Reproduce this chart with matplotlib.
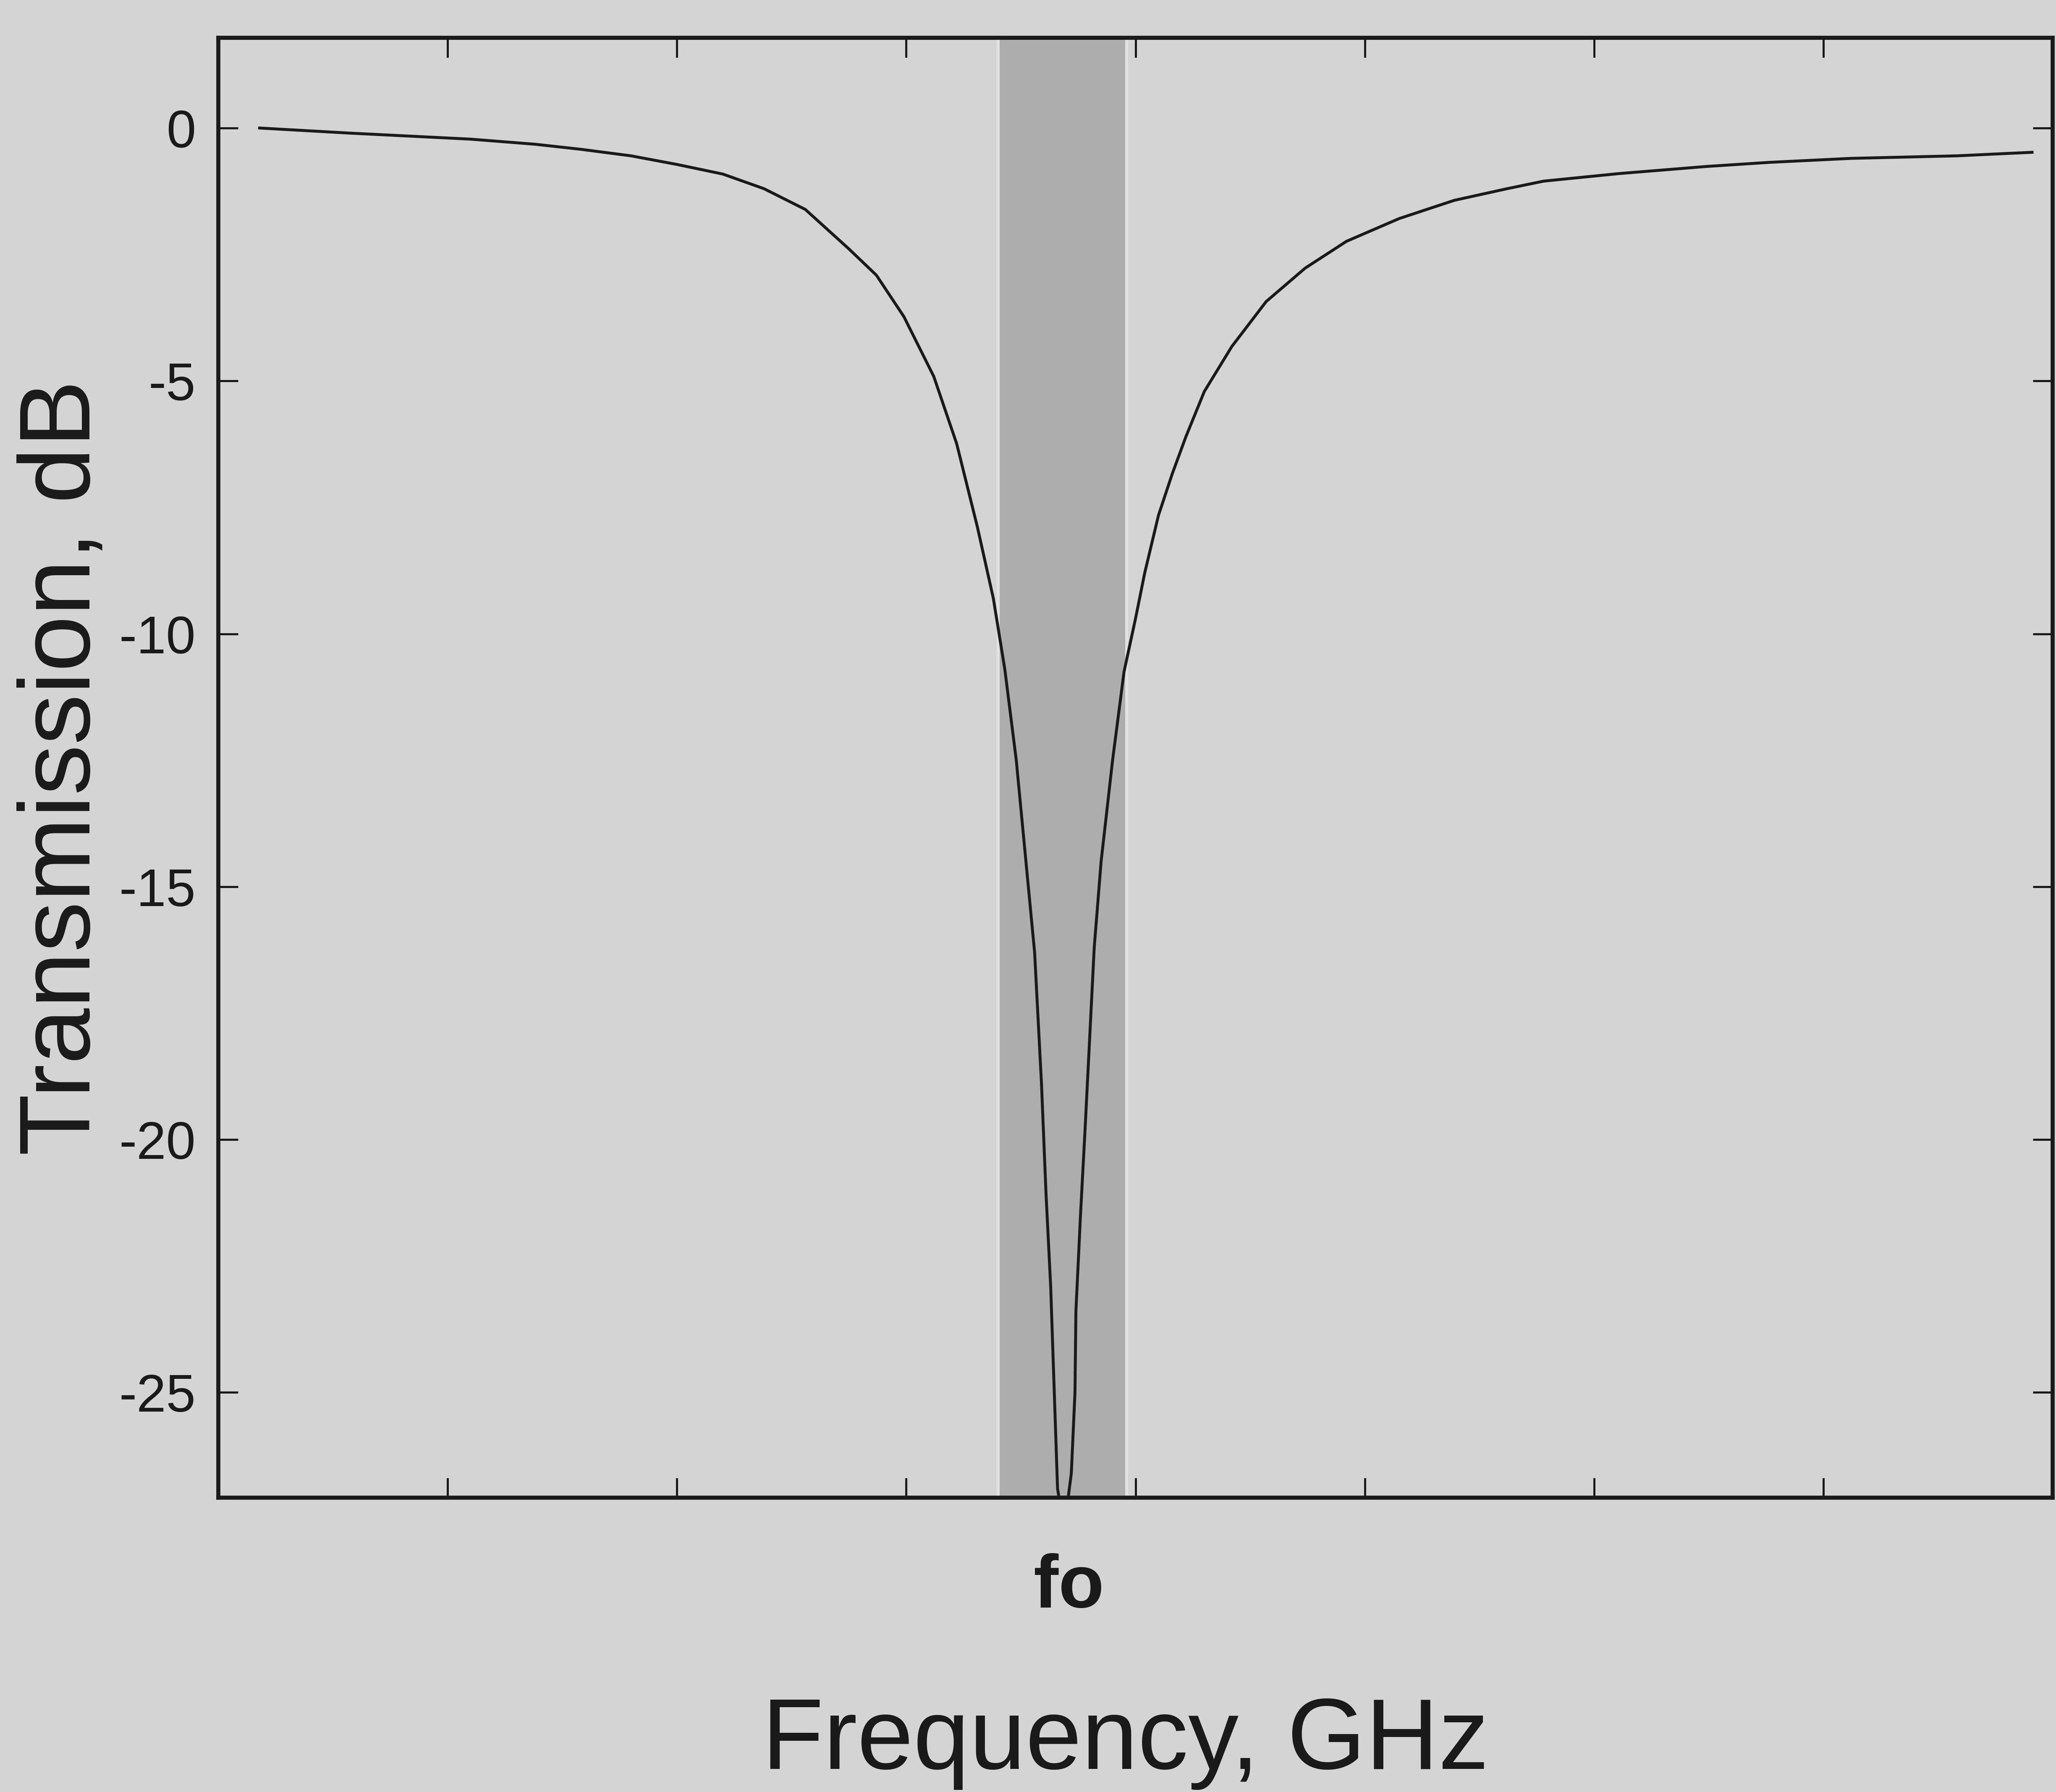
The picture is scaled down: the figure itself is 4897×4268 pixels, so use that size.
import matplotlib
matplotlib.use("Agg")
import matplotlib.pyplot as plt
import matplotlib.transforms as mtransforms

# ---- data ----
freq = [0.18, 0.57, 1.10, 1.38, 1.58, 1.80, 2.00, 2.20, 2.38, 2.56, 2.75, 2.87,
        2.99, 3.12, 3.22, 3.31, 3.38, 3.43, 3.48, 3.52, 3.56, 3.59, 3.61, 3.63,
        3.645, 3.66, 3.685, 3.70, 3.72, 3.736, 3.74, 3.76, 3.78, 3.80, 3.82, 3.85,
        3.90, 3.95, 4.00, 4.04, 4.10, 4.16, 4.22, 4.30, 4.42, 4.57, 4.74, 4.92,
        5.15, 5.39, 5.62, 5.78, 6.11, 6.49, 6.76, 7.12, 7.58, 7.91]
trans_db = [0.0, -0.10, -0.22, -0.32, -0.42, -0.55, -0.72, -0.91, -1.20, -1.61,
            -2.39, -2.91, -3.73, -4.91, -6.24, -7.88, -9.3, -10.7, -12.5, -14.4,
            -16.3, -18.9, -21.1, -22.9, -24.9, -26.9, -27.6, -27.3, -26.6, -25.0,
            -23.4, -21.5, -19.8, -18.0, -16.2, -14.5, -12.5, -10.75, -9.7, -8.8,
            -7.66, -6.84, -6.10, -5.21, -4.32, -3.43, -2.77, -2.24, -1.79, -1.43,
            -1.20, -1.05, -0.90, -0.76, -0.68, -0.60, -0.55, -0.48]
band = [3.40, 3.96]
fo_pos = 3.71
x_ticks = [1, 2, 3, 4, 5, 6, 7]
y_ticks = [0, -5, -10, -15, -20, -25]
y_ticklabels = ["0", "-5", "-10", "-15", "-20", "-25"]

BG = "#d4d4d4"
FONT = ["Liberation Sans", "DejaVu Sans"]

fig = plt.figure(figsize=(48.97, 42.68), dpi=100, facecolor=BG)
ax = fig.add_axes([0.10619, 0.16424, 0.8922, 0.8147])
ax.set_facecolor(BG)

ax.axvspan(band[0], band[1], color="#adadad", zorder=1, lw=0)
for b in band:
    ax.axvline(b, color="#e2e2e2", lw=5, zorder=1.5)

ax.plot(freq, trans_db, color="#1a1a1a", lw=5.0, zorder=3, solid_joinstyle="round")

ax.set_xlim(0, 8)
ax.set_ylim(-27.08, 1.785)

ax.set_xticks(x_ticks)
ax.set_xticklabels([])
ax.set_yticks(y_ticks)
ax.set_yticklabels(y_ticklabels, fontfamily=FONT, fontsize=91, color="#1a1a1a")
ax.tick_params(axis="both", which="both", direction="in", length=34, width=3.6,
               color="#1a1a1a", top=True, right=True, bottom=True, left=True)
ax.tick_params(axis="y", pad=39)

for s in ax.spines.values():
    s.set_linewidth(7)
    s.set_color("#1a1a1a")

# fo label under the band
trans = mtransforms.blended_transform_factory(ax.transData, fig.transFigure)
ax.text(fo_pos, 1 - 3828 / 4268, "fo", transform=trans, ha="center", va="baseline",
        fontsize=128, fontweight="bold", fontfamily=FONT, color="#1a1a1a")

fig.text(0.5475, 1 - 4213 / 4268, "Frequency, GHz", ha="center", va="baseline",
         fontsize=173, fontfamily=FONT, color="#1a1a1a")
fig.text(0.031, 0.5717, "Transmission, dB", ha="center", va="center", rotation=90,
         fontsize=173, fontfamily=FONT, color="#1a1a1a")

fig.savefig("out.png", dpi=100, facecolor=BG)
